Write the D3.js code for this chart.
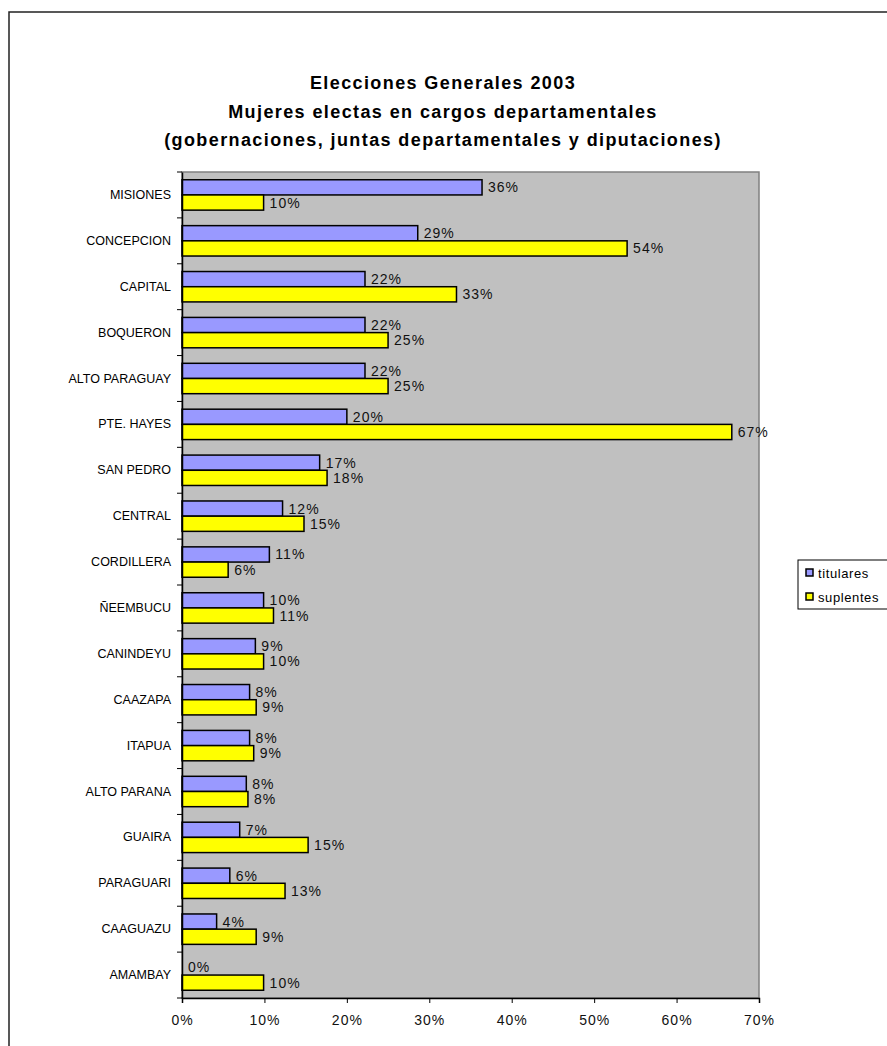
<!DOCTYPE html>
<html lang="es">
<head>
<meta charset="UTF-8">
<title>Elecciones Generales 2003</title>
<style>
    body { margin: 0; background: #fff; }
    svg { display: block; font-family: "Liberation Sans", Arial, sans-serif; }
</style>
</head>
<body>
<script src="https://cdn.jsdelivr.net/npm/d3@7"></script>
<script>
var departamentos = ["MISIONES", "CONCEPCION", "CAPITAL", "BOQUERON", "ALTO PARAGUAY", "PTE. HAYES",
    "SAN PEDRO", "CENTRAL", "CORDILLERA", "ÑEEMBUCU", "CANINDEYU", "CAAZAPA", "ITAPUA",
    "ALTO PARANA", "GUAIRA", "PARAGUARI", "CAAGUAZU", "AMAMBAY"];
var titulares = [36.4, 28.6, 22.2, 22.2, 22.2, 20.0, 16.7, 12.2, 10.6, 9.9, 8.9, 8.2, 8.2, 7.8, 7.0, 5.8, 4.2, 0];
var suplentes = [9.9, 54.0, 33.3, 25.0, 25.0, 66.7, 17.6, 14.8, 5.6, 11.1, 9.9, 9.0, 8.7, 8.0, 15.3, 12.5, 9.0, 9.9];
var ticks = [0, 10, 20, 30, 40, 50, 60, 70];
var series = ["titulares", "suplentes"];
var colores = ["#9999FF", "#FFFF00"];
var titulo = ["Elecciones Generales 2003",
    "Mujeres electas en cargos departamentales",
    "(gobernaciones, juntas departamentales y diputaciones)"];

var w = 887, h = 1046;
var mLeft = 182, mRight = 759, mTop = 172, mBottom = 998;

var svg = d3.select("body").append("svg").attr("width", w).attr("height", h);

// marco exterior
svg.append("rect").attr("x", 9).attr("y", 12).attr("width", w + 10).attr("height", h + 10)
    .attr("fill", "none").attr("stroke", "#222").attr("stroke-width", 1.5);

// titulo
svg.selectAll(".titulo").data(titulo).enter().append("text")
    .attr("x", 443).attr("y", function (d, i) { return 89 + i * 28.5; })
    .attr("text-anchor", "middle").attr("font-weight", "bold").attr("font-size", "18px")
    .attr("letter-spacing", "1.4px")
    .attr("fill", "#000").text(function (d) { return d; });

var xScale = d3.scaleLinear().domain([0, 70]).range([mLeft, mRight]);
var yScale = d3.scaleBand().domain(departamentos).range([mTop, mBottom]);
var inner = d3.scaleBand().domain(series).range([0, yScale.bandwidth()]).paddingInner(0).paddingOuter(0.51);

// fondo del area
svg.append("rect").attr("x", mLeft).attr("y", mTop).attr("width", mRight - mLeft).attr("height", mBottom - mTop)
    .attr("fill", "#C0C0C0").attr("stroke", "#808080").attr("stroke-width", 1.5);

var filas = departamentos.map(function (d, i) {
    return { dep: d, vals: [titulares[i], suplentes[i]] };
});

var g = svg.selectAll(".fila").data(filas).enter().append("g")
    .attr("transform", function (d) { return "translate(0," + yScale(d.dep) + ")"; });

g.selectAll("rect").data(function (d) {
    return d.vals.map(function (v, j) { return { v: v, s: series[j], c: colores[j] }; });
}).enter().append("rect")
    .attr("x", xScale(0))
    .attr("y", function (d) { return inner(d.s); })
    .attr("width", function (d) { return xScale(d.v) - xScale(0); })
    .attr("height", inner.bandwidth())
    .attr("fill", function (d) { return d.c; })
    .attr("stroke", "#000").attr("stroke-width", 1.5);

g.selectAll("text").data(function (d) {
    return d.vals.map(function (v, j) { return { v: v, s: series[j] }; });
}).enter().append("text")
    .attr("x", function (d) { return xScale(d.v) + 6; })
    .attr("y", function (d) { return inner(d.s) + inner.bandwidth() / 2 + 5; })
    .attr("font-size", "14px").attr("letter-spacing", "1px").attr("fill", "#111")
    .text(function (d) { return Math.round(d.v) + "%"; });

// ejes
var yAxis = d3.axisLeft(yScale).tickSize(0).tickPadding(11);
svg.append("g").attr("transform", "translate(" + mLeft + ",0)").call(yAxis)
    .call(function (s) {
        s.select(".domain").attr("stroke", "#000").attr("stroke-width", 1.5);
        s.selectAll("text").attr("font-size", "12.5px").attr("fill", "#000")
            .attr("font-family", "Liberation Sans, Arial, sans-serif");
    });
// marcas entre categorias
svg.append("g").selectAll("line").data(departamentos.concat(["fin"])).enter().append("line")
    .attr("x1", mLeft - 5).attr("x2", mLeft)
    .attr("y1", function (d, i) { return mTop + i * yScale.step(); })
    .attr("y2", function (d, i) { return mTop + i * yScale.step(); })
    .attr("stroke", "#000").attr("stroke-width", 1);

var xAxis = d3.axisBottom(xScale).tickValues(ticks).tickSize(5).tickPadding(12)
    .tickFormat(function (d) { return d + "%"; });
svg.append("g").attr("transform", "translate(0," + mBottom + ")").call(xAxis)
    .call(function (s) {
        s.select(".domain").attr("stroke", "#000").attr("stroke-width", 1.5);
        s.selectAll("text").attr("font-size", "14px").attr("letter-spacing", "1px").attr("fill", "#111")
            .attr("font-family", "Liberation Sans, Arial, sans-serif");
    });

// leyenda
var ley = svg.append("g").attr("transform", "translate(798,560)");
ley.append("rect").attr("x", 0).attr("y", 0).attr("width", 100).attr("height", 49)
    .attr("fill", "#fff").attr("stroke", "#000").attr("stroke-width", 1);
var item = ley.selectAll(".item").data(series).enter().append("g")
    .attr("transform", function (d, i) { return "translate(8," + (13 + i * 24) + ")"; });
item.append("rect").attr("x", 0).attr("y", -4).attr("width", 7).attr("height", 7)
    .attr("fill", function (d, i) { return colores[i]; }).attr("stroke", "#000").attr("stroke-width", 1.5);
item.append("text").attr("x", 12).attr("y", 4.5).attr("font-size", "13px").attr("letter-spacing", "0.6px")
    .attr("fill", "#000").text(function (d) { return d; });
</script>
</body>
</html>
